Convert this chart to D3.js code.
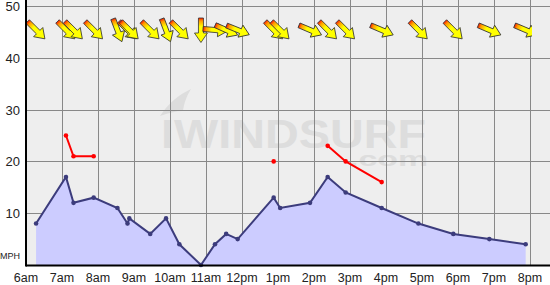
<!DOCTYPE html>
<html>
<head>
<meta charset="utf-8">
<script src="https://cdn.jsdelivr.net/npm/d3@7"></script>
<style>
  body { margin: 0; background: #fff; }
  svg { display: block; font-family: "Liberation Sans", Arial, sans-serif; }
</style>
</head>
<body>
<div id="chart"></div>
<script>
// Wind chart: average speed (area), gusts (red) and direction arrows

// Sample times, in decimal hours
var times = [6.28, 7.11, 7.32, 7.88, 8.54, 8.82, 8.87, 9.45, 9.89, 10.26, 10.86, 11.25,
             11.56, 11.88, 12.88, 13.06, 13.89, 14.38, 14.88, 15.88, 16.9, 17.87, 18.87, 19.88];
// Average wind, mph
var avgWind = [8, 17, 12, 13, 11, 8, 9, 6, 9, 4, 0, 4,
               6, 5, 13, 11, 12, 17, 14, 11, 8, 6, 5, 4];
// Gusts, mph (null = no gust reported)
var gusts = [null, 25, 21, 21, null, null, null, null, null, null, null, null,
             null, null, 20, null, null, 23, 20, 16, null, null, null, null];
// Direction the wind comes from, degrees
var windDir = [315, 315, 315, 315, 339, 315, 315, 315, 339, 315, 0, 275,
               294, 292, 315, 315, 293, 315, 315, 293, 315, 315, 293, 293];

var hourTicks = [6, 7, 8, 9, 10, 11, 12, 13, 14, 15, 16, 17, 18, 19, 20];
var hourLabels = ["6am", "7am", "8am", "9am", "10am", "11am", "12pm", "1pm",
                  "2pm", "3pm", "4pm", "5pm", "6pm", "7pm", "8pm"];
var speedTicks = [10, 20, 30, 40, 50];

var width = 550;
var height = 285;
var axisX = 26;
var axisY = 265;

var svg = d3.select("#chart")
    .append("svg")
    .attr("width", width)
    .attr("height", height);

var x = d3.scaleLinear().domain([6, 20]).range([axisX, 530]);
var y = d3.scaleLinear().domain([0, 50]).range([axisY, 6]);

var rows = times.map(function(t, i) {
    return { t: t, avg: avgWind[i], gust: gusts[i], dir: windDir[i] };
});

// plot background
svg.append("rect")
    .attr("x", axisX)
    .attr("y", 0)
    .attr("width", width - axisX)
    .attr("height", axisY)
    .attr("fill", "#eeeeee");

// watermark (one text, two lines)
var wm = svg.append("g").attr("fill", "#dddddd");
wm.append("path")
    .attr("d", "M160,116 C168,104 178,95 191,89 C186,97 184,104 183,111 C176,111 168,113 160,116 Z");
var wmText = wm.append("text").attr("font-weight", "bold");
wmText.append("tspan")
    .attr("x", 161)
    .attr("y", 148)
    .attr("font-size", 40)
    .attr("textLength", 265)
    .attr("lengthAdjust", "spacingAndGlyphs")
    .text("IWINDSURF");
wmText.append("tspan")
    .attr("x", 349)
    .attr("y", 166)
    .attr("font-size", 21)
    .attr("textLength", 79)
    .attr("lengthAdjust", "spacingAndGlyphs")
    .text(".com");

// grid
var grid = svg.append("g").attr("stroke", "#888888").attr("stroke-width", 1);
grid.selectAll("line.h")
    .data(speedTicks)
    .enter()
    .append("line")
    .attr("x1", axisX)
    .attr("x2", width)
    .attr("y1", function(d) { return Math.round(y(d)) + 0.5; })
    .attr("y2", function(d) { return Math.round(y(d)) + 0.5; });
grid.selectAll("line.v")
    .data(hourTicks.slice(1))
    .enter()
    .append("line")
    .attr("y1", 0)
    .attr("y2", axisY)
    .attr("x1", function(d) { return Math.round(x(d)) + 0.5; })
    .attr("x2", function(d) { return Math.round(x(d)) + 0.5; });

// average wind area
var area = d3.area()
    .x(function(d) { return x(d.t); })
    .y0(y(0))
    .y1(function(d) { return y(d.avg); });
svg.append("path")
    .datum(rows)
    .attr("d", area)
    .attr("fill", "#ccccff");

var line = d3.line()
    .x(function(d) { return x(d.t); })
    .y(function(d) { return y(d.avg); });
svg.append("path")
    .datum(rows)
    .attr("d", line)
    .attr("fill", "none")
    .attr("stroke", "#3c3c7c")
    .attr("stroke-width", 2);
svg.selectAll("circle.avg")
    .data(rows)
    .enter()
    .append("circle")
    .attr("cx", function(d) { return x(d.t); })
    .attr("cy", function(d) { return y(d.avg); })
    .attr("r", 2.3)
    .attr("fill", "#3c3c7c");

// gusts
var gustLine = d3.line()
    .defined(function(d) { return d.gust != null; })
    .x(function(d) { return x(d.t); })
    .y(function(d) { return y(d.gust); });
svg.append("path")
    .datum(rows)
    .attr("d", gustLine)
    .attr("fill", "none")
    .attr("stroke", "#ff0000")
    .attr("stroke-width", 2);
svg.selectAll("circle.gust")
    .data(rows.filter(function(d) { return d.gust != null; }))
    .enter()
    .append("circle")
    .attr("cx", function(d) { return x(d.t); })
    .attr("cy", function(d) { return y(d.gust); })
    .attr("r", 2.3)
    .attr("fill", "#ff0000");

// direction arrows
var defs = svg.append("defs");
var grad = defs.append("linearGradient")
    .attr("id", "arrowGrad")
    .attr("x1", 0).attr("x2", 1).attr("y1", 0).attr("y2", 0);
grad.append("stop").attr("offset", 0).attr("stop-color", "#ff1a00");
grad.append("stop").attr("offset", 0.12).attr("stop-color", "#ff9900");
grad.append("stop").attr("offset", 0.35).attr("stop-color", "#ffff00");
grad.append("stop").attr("offset", 1).attr("stop-color", "#ffff00");
defs.append("clipPath")
    .attr("id", "arrowClip")
    .append("rect")
    .attr("x", axisX)
    .attr("y", 0)
    .attr("width", 532 - axisX)
    .attr("height", 60);

svg.append("g")
    .attr("clip-path", "url(#arrowClip)")
    .selectAll("path.arrow")
    .data(rows)
    .enter()
    .append("path")
    .attr("d", "M-12,-2.5 L3,-2.5 L3,-6.5 L12.5,0 L3,6.5 L3,2.5 L-12,2.5 Z")
    .attr("transform", function(d) {
        return "translate(" + x(d.t) + ",30) rotate(" + (d.dir + 90) + ")";
    })
    .attr("fill", "url(#arrowGrad)")
    .attr("stroke", "#333333")
    .attr("stroke-width", 0.8)
    .attr("stroke-linejoin", "round");

// axes
svg.append("line")
    .attr("x1", axisX).attr("x2", width)
    .attr("y1", axisY + 0.5).attr("y2", axisY + 0.5)
    .attr("stroke", "#000").attr("stroke-width", 2);
svg.append("line")
    .attr("x1", axisX).attr("x2", axisX)
    .attr("y1", 0).attr("y2", axisY + 1.5)
    .attr("stroke", "#000").attr("stroke-width", 2);

// y labels
svg.selectAll("text.ylab")
    .data(speedTicks)
    .enter()
    .append("text")
    .attr("x", 20)
    .attr("y", function(d) { return y(d) + 5; })
    .attr("text-anchor", "end")
    .attr("font-size", 13)
    .attr("fill", "#222")
    .text(function(d) { return d; });
svg.append("text")
    .attr("x", 0)
    .attr("y", 259)
    .attr("font-size", 9)
    .attr("fill", "#222")
    .text("MPH");

// x labels
svg.selectAll("text.xlab")
    .data(hourTicks)
    .enter()
    .append("text")
    .attr("x", function(d) { return x(d); })
    .attr("y", 282)
    .attr("text-anchor", "middle")
    .attr("font-size", 12.5)
    .attr("fill", "#222")
    .text(function(d, i) { return hourLabels[i]; });
</script>
</body>
</html>
